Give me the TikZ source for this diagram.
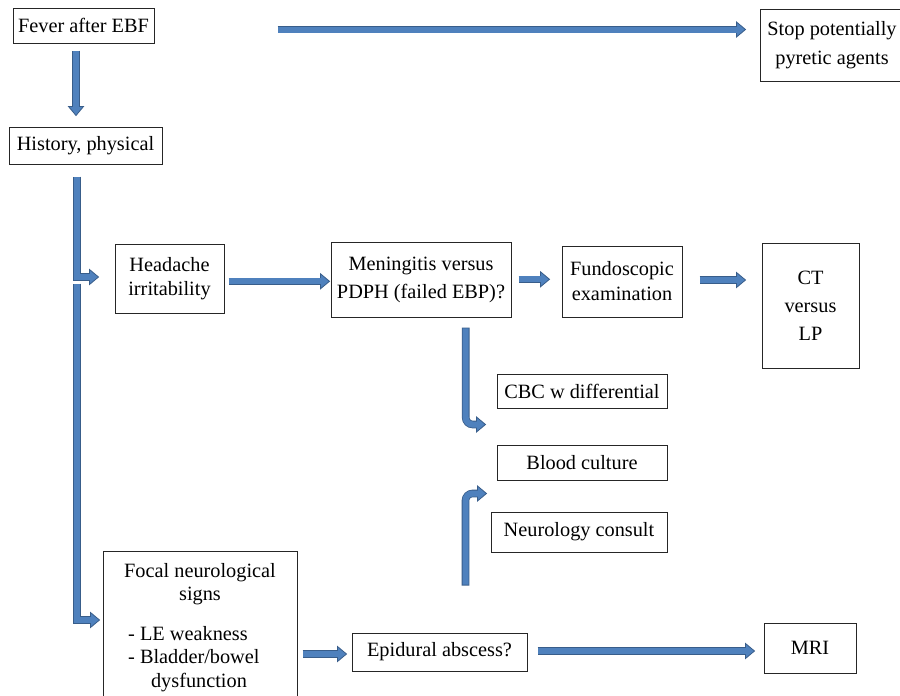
\documentclass[tikz,border=0pt]{standalone}
\usepackage{fontspec}
\setmainfont{Liberation Serif}
\usetikzlibrary{calc}
\definecolor{afill}{HTML}{4F81BD}
\definecolor{aline}{HTML}{385D8A}
\newcommand{\ahl}{9}
\newcommand{\ahw}{7.5}
\tikzset{
  box/.style={draw=black!85, line width=1pt, inner sep=0pt, align=center,
    font=\fontsize{20.3}{25}\selectfont},
  txt/.style={inner sep=0pt, font=\fontsize{20.3}{25}\selectfont},
  shaftout/.style={draw=aline, line width=7.6pt, line cap=butt},
  shaftin/.style={draw=afill, line width=6pt, line cap=butt, shorten <=0.8pt},
  headsty/.style={fill=afill, draw=aline, line width=0.8pt, line join=miter},
}
\newcommand{\arrowRight}[2]{%
  \coordinate (S) at (#1);
  \coordinate (T) at (#2);
  \coordinate (B) at ($(T)+(-\ahl,0)$);
  \draw[shaftout] (S) -- (B);
  \filldraw[headsty] (T) -- ($(B)+(0,\ahw)$) -- ($(B)+(0,-\ahw)$) -- cycle;
  \draw[shaftin] (S) -- ($(B)+(1.5,0)$);
}
\newcommand{\arrowDown}[2]{%
  \coordinate (S) at (#1);
  \coordinate (T) at (#2);
  \coordinate (B) at ($(T)+(0,-\ahl)$);
  \draw[shaftout] (S) -- (B);
  \filldraw[headsty] (T) -- ($(B)+(\ahw,0)$) -- ($(B)+(-\ahw,0)$) -- cycle;
  \draw[shaftin] (S) -- ($(B)+(0,1.5)$);
}
\newcommand{\arrowBend}[3]{%
  \coordinate (S) at (#1);
  \coordinate (T) at (#2);
  \coordinate (B) at ($(T)+(-\ahl,0)$);
  \draw[shaftout,#3] (S) |- (B);
  \filldraw[headsty] (T) -- ($(B)+(0,\ahw)$) -- ($(B)+(0,-\ahw)$) -- cycle;
  \draw[shaftin,#3] (S) |- ($(B)+(1.5,0)$);
}
\begin{document}
\begin{tikzpicture}[x=1pt,y=-1pt]
\useasboundingbox (0,0) rectangle (900,696);
\clip (0,0) rectangle (900,696);
\fill[white] (0,0) rectangle (900,696);

% boxes
\node[box, minimum width=141pt, minimum height=35pt] (fever) at (83.5,25.5) {Fever after EBF};
\node[box, minimum width=144pt, minimum height=72pt, font=\fontsize{20.3}{29}\selectfont] (stop) at (832,45) {Stop potentially\\pyretic agents};
\node[box, minimum width=153pt, minimum height=37pt] (hist) at (85.5,145.5) {History, physical};
\node[box, minimum width=109pt, minimum height=69pt, font=\fontsize{20.3}{24}\selectfont] (head) at (169.5,278.5) {Headache\\irritability};
\node[box, minimum width=180pt, minimum height=75pt, font=\fontsize{20.3}{28}\selectfont] (men) at (421,279.5) {Meningitis versus\\PDPH (failed EBP)?};
\node[box, minimum width=120pt, minimum height=71pt, font=\fontsize{20.3}{25}\selectfont] (fund) at (622,281.5) {Fundoscopic\\examination};
\node[box, minimum width=97pt, minimum height=125pt, font=\fontsize{20.3}{28}\selectfont] (ct) at (810.5,305.5) {CT\\versus\\LP};
\node[box, minimum width=170pt, minimum height=34pt] (cbc) at (582,391) {CBC w differential};
\node[box, minimum width=170pt, minimum height=35pt] (blood) at (582,462.5) {Blood culture};
\node[box, minimum width=176pt, minimum height=40pt] (neuro) at (579,532) {Neurology consult};
\node[box, minimum width=194pt, minimum height=159pt] (focal) at (200,630.5) {};
\node[txt, anchor=base] (f1) at (200,577) {Focal neurological};
\node[txt, anchor=base] (f2) at (200,600) {signs};
\node[txt, anchor=base west] (f3) at (128,640) {- LE weakness};
\node[txt, anchor=base west] (f4) at (128,663) {- Bladder/bowel};
\node[txt, anchor=base] (f5) at (199,687) {dysfunction};
\node[box, minimum width=175pt, minimum height=38pt] (epi) at (439.5,652) {Epidural abscess?};
\node[box, minimum width=92pt, minimum height=50pt] (mri) at (810,648) {MRI};

% arrows
\coordinate (a1s) at ($(fever.south west)+(63.5,7)$);
\coordinate (a1t) at ($(a1s |- hist.north)+(0,-11)$);
\arrowDown{a1s}{a1t}

\coordinate (a2s) at ($(fever.east)+(123,4)$);
\coordinate (a2t) at ($(a2s -| stop.west)+(-14,0)$);
\arrowRight{a2s}{a2t}

\coordinate (a3s) at ($(hist.south west)+(68.5,12)$);
\coordinate (a3t) at ($(head.west)+(-16,-1.5)$);
\arrowBend{a3s}{a3t}{}

\coordinate (a4s) at ($(hist.south west)+(68.5,119)$);
\coordinate (a4t) at ($(focal.west)+(-3,-10.5)$);
\arrowBend{a4s}{a4t}{}

\coordinate (a5s) at ($(head.east)+(4,2.8)$);
\coordinate (a5t) at ($(a5s -| men.west)+(-1,0)$);
\arrowRight{a5s}{a5t}

\coordinate (a6s) at ($(men.east)+(7,-0.2)$);
\coordinate (a6t) at ($(a6s -| fund.west)+(-12,0)$);
\arrowRight{a6s}{a6t}

\coordinate (a7s) at ($(fund.east)+(17,-1.5)$);
\coordinate (a7t) at ($(a7s -| ct.west)+(-16,0)$);
\arrowRight{a7s}{a7t}

\coordinate (a8s) at ($(men.south)+(44.7,10)$);
\coordinate (a8t) at ($(cbc.south west)+(-11,16)$);
\arrowBend{a8s}{a8t}{rounded corners=7pt}

\coordinate (a9s) at ($(neuro.south west)+(-25,33)$);
\coordinate (a9t) at ($(neuro.north west)+(-4,-18)$);
\arrowBend{a9s}{a9t}{rounded corners=7pt}

\coordinate (a10s) at ($(focal.east)+(5,23.5)$);
\coordinate (a10t) at ($(a10s -| epi.west)+(-5,0)$);
\arrowRight{a10s}{a10t}

\coordinate (a11s) at ($(epi.east)+(10,-1)$);
\coordinate (a11t) at ($(a11s -| mri.west)+(-9,0)$);
\arrowRight{a11s}{a11t}
\end{tikzpicture}
\end{document}
